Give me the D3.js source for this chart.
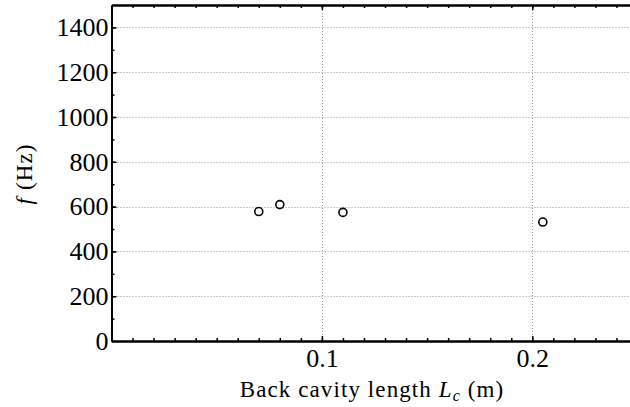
<!DOCTYPE html>
<html><head><meta charset="utf-8">
<script src="https://cdn.jsdelivr.net/npm/d3@7"></script>
<style>body{margin:0;background:#fff}svg{display:block}</style>
</head><body>
<script>
const lengths = [0.07, 0.08, 0.11, 0.205];
const freqs = [578, 609, 574, 531];
const xMajorTicks = [0.1, 0.2];
const yMajorTicks = [0, 200, 400, 600, 800, 1000, 1200, 1400];

const W = 630, H = 407;
const FONT = "Liberation Serif";
const svg = d3.select("body").append("svg").attr("width", W).attr("height", H);
const x = d3.scaleLinear().domain([0, 0.25]).range([111.5, 637.5]);
const y = d3.scaleLinear().domain([0, 1500]).range([341, 5]);

const xMinor = d3.range(1, 25).map(i => i / 100);
const yMinor = d3.range(1, 15).map(i => i * 100);

// grid
const g = svg.append("g");
g.selectAll(".gy").data(yMajorTicks.filter(d => d > 0)).join("line")
  .attr("x1", x(0)).attr("x2", W).attr("y1", d => Math.round(y(d)) + 0.5).attr("y2", d => Math.round(y(d)) + 0.5)
  .attr("stroke", "#999").attr("stroke-width", 1).attr("stroke-dasharray", "1,2");
g.selectAll(".gx").data(xMajorTicks).join("line")
  .attr("y1", y(0)).attr("y2", y(1500)).attr("x1", d => Math.round(x(d)) + 0.5).attr("x2", d => Math.round(x(d)) + 0.5)
  .attr("stroke", "#999").attr("stroke-width", 1).attr("stroke-dasharray", "1,2");

// axes using d3 axis
const axBottom = svg.append("g").attr("transform", `translate(0,${y(0)})`)
  .call(d3.axisBottom(x).tickValues(xMajorTicks).tickFormat(d3.format(".1f")).tickSizeInner(-5).tickSizeOuter(0).tickPadding(8));
const axBottomMinor = svg.append("g").attr("transform", `translate(0,${y(0)})`)
  .call(d3.axisBottom(x).tickValues(xMinor).tickFormat("").tickSizeInner(-3).tickSizeOuter(0));
const axTop = svg.append("g").attr("transform", `translate(0,${y(1500)})`)
  .call(d3.axisTop(x).tickValues(xMinor).tickFormat("").tickSizeInner(-3).tickSizeOuter(0));
const axTopMajor = svg.append("g").attr("transform", `translate(0,${y(1500)})`)
  .call(d3.axisTop(x).tickValues(xMajorTicks).tickFormat("").tickSizeInner(-5).tickSizeOuter(0));
const axLeft = svg.append("g").attr("transform", `translate(${x(0)},0)`)
  .call(d3.axisLeft(y).tickValues(yMajorTicks).tickFormat(d3.format("d")).tickSizeInner(-5).tickSizeOuter(0).tickPadding(3));
const axLeftMinor = svg.append("g").attr("transform", `translate(${x(0)},0)`)
  .call(d3.axisLeft(y).tickValues(yMinor).tickFormat("").tickSizeInner(-3).tickSizeOuter(0));

[axBottom, axBottomMinor, axTop, axTopMajor, axLeft, axLeftMinor].forEach(a => {
  a.attr("font-family", FONT).attr("font-size", 26);
  a.select(".domain").attr("stroke", "#000").attr("stroke-width", 2);
  a.selectAll(".tick line").attr("stroke", "#000").attr("stroke-width", 1.5);
  a.selectAll("text").attr("fill", "#000");
});

// points
svg.selectAll(".pt").data(lengths.map((l, i) => [l, freqs[i]])).join("circle")
  .attr("cx", d => x(d[0])).attr("cy", d => y(d[1])).attr("r", 4)
  .attr("fill", "none").attr("stroke", "#000").attr("stroke-width", 1.6);

// labels
const xl = svg.append("text").attr("x", 372).attr("y", 397).attr("text-anchor", "middle")
  .attr("font-family", FONT).attr("font-size", 23).attr("letter-spacing", 1.1);
xl.append("tspan").text("Back cavity length ");
xl.append("tspan").attr("font-style", "italic").text("L");
xl.append("tspan").attr("font-style", "italic").attr("font-size", 16).attr("dy", 4).text("c");
xl.append("tspan").attr("dy", -4).text(" (m)");

const yl = svg.append("text").attr("transform", "translate(32,174) rotate(-90)").attr("text-anchor", "middle")
  .attr("font-family", FONT).attr("font-size", 23).attr("letter-spacing", 1.1);
yl.append("tspan").attr("font-style", "italic").text("f");
yl.append("tspan").text(" (Hz)");
</script>
</body></html>
